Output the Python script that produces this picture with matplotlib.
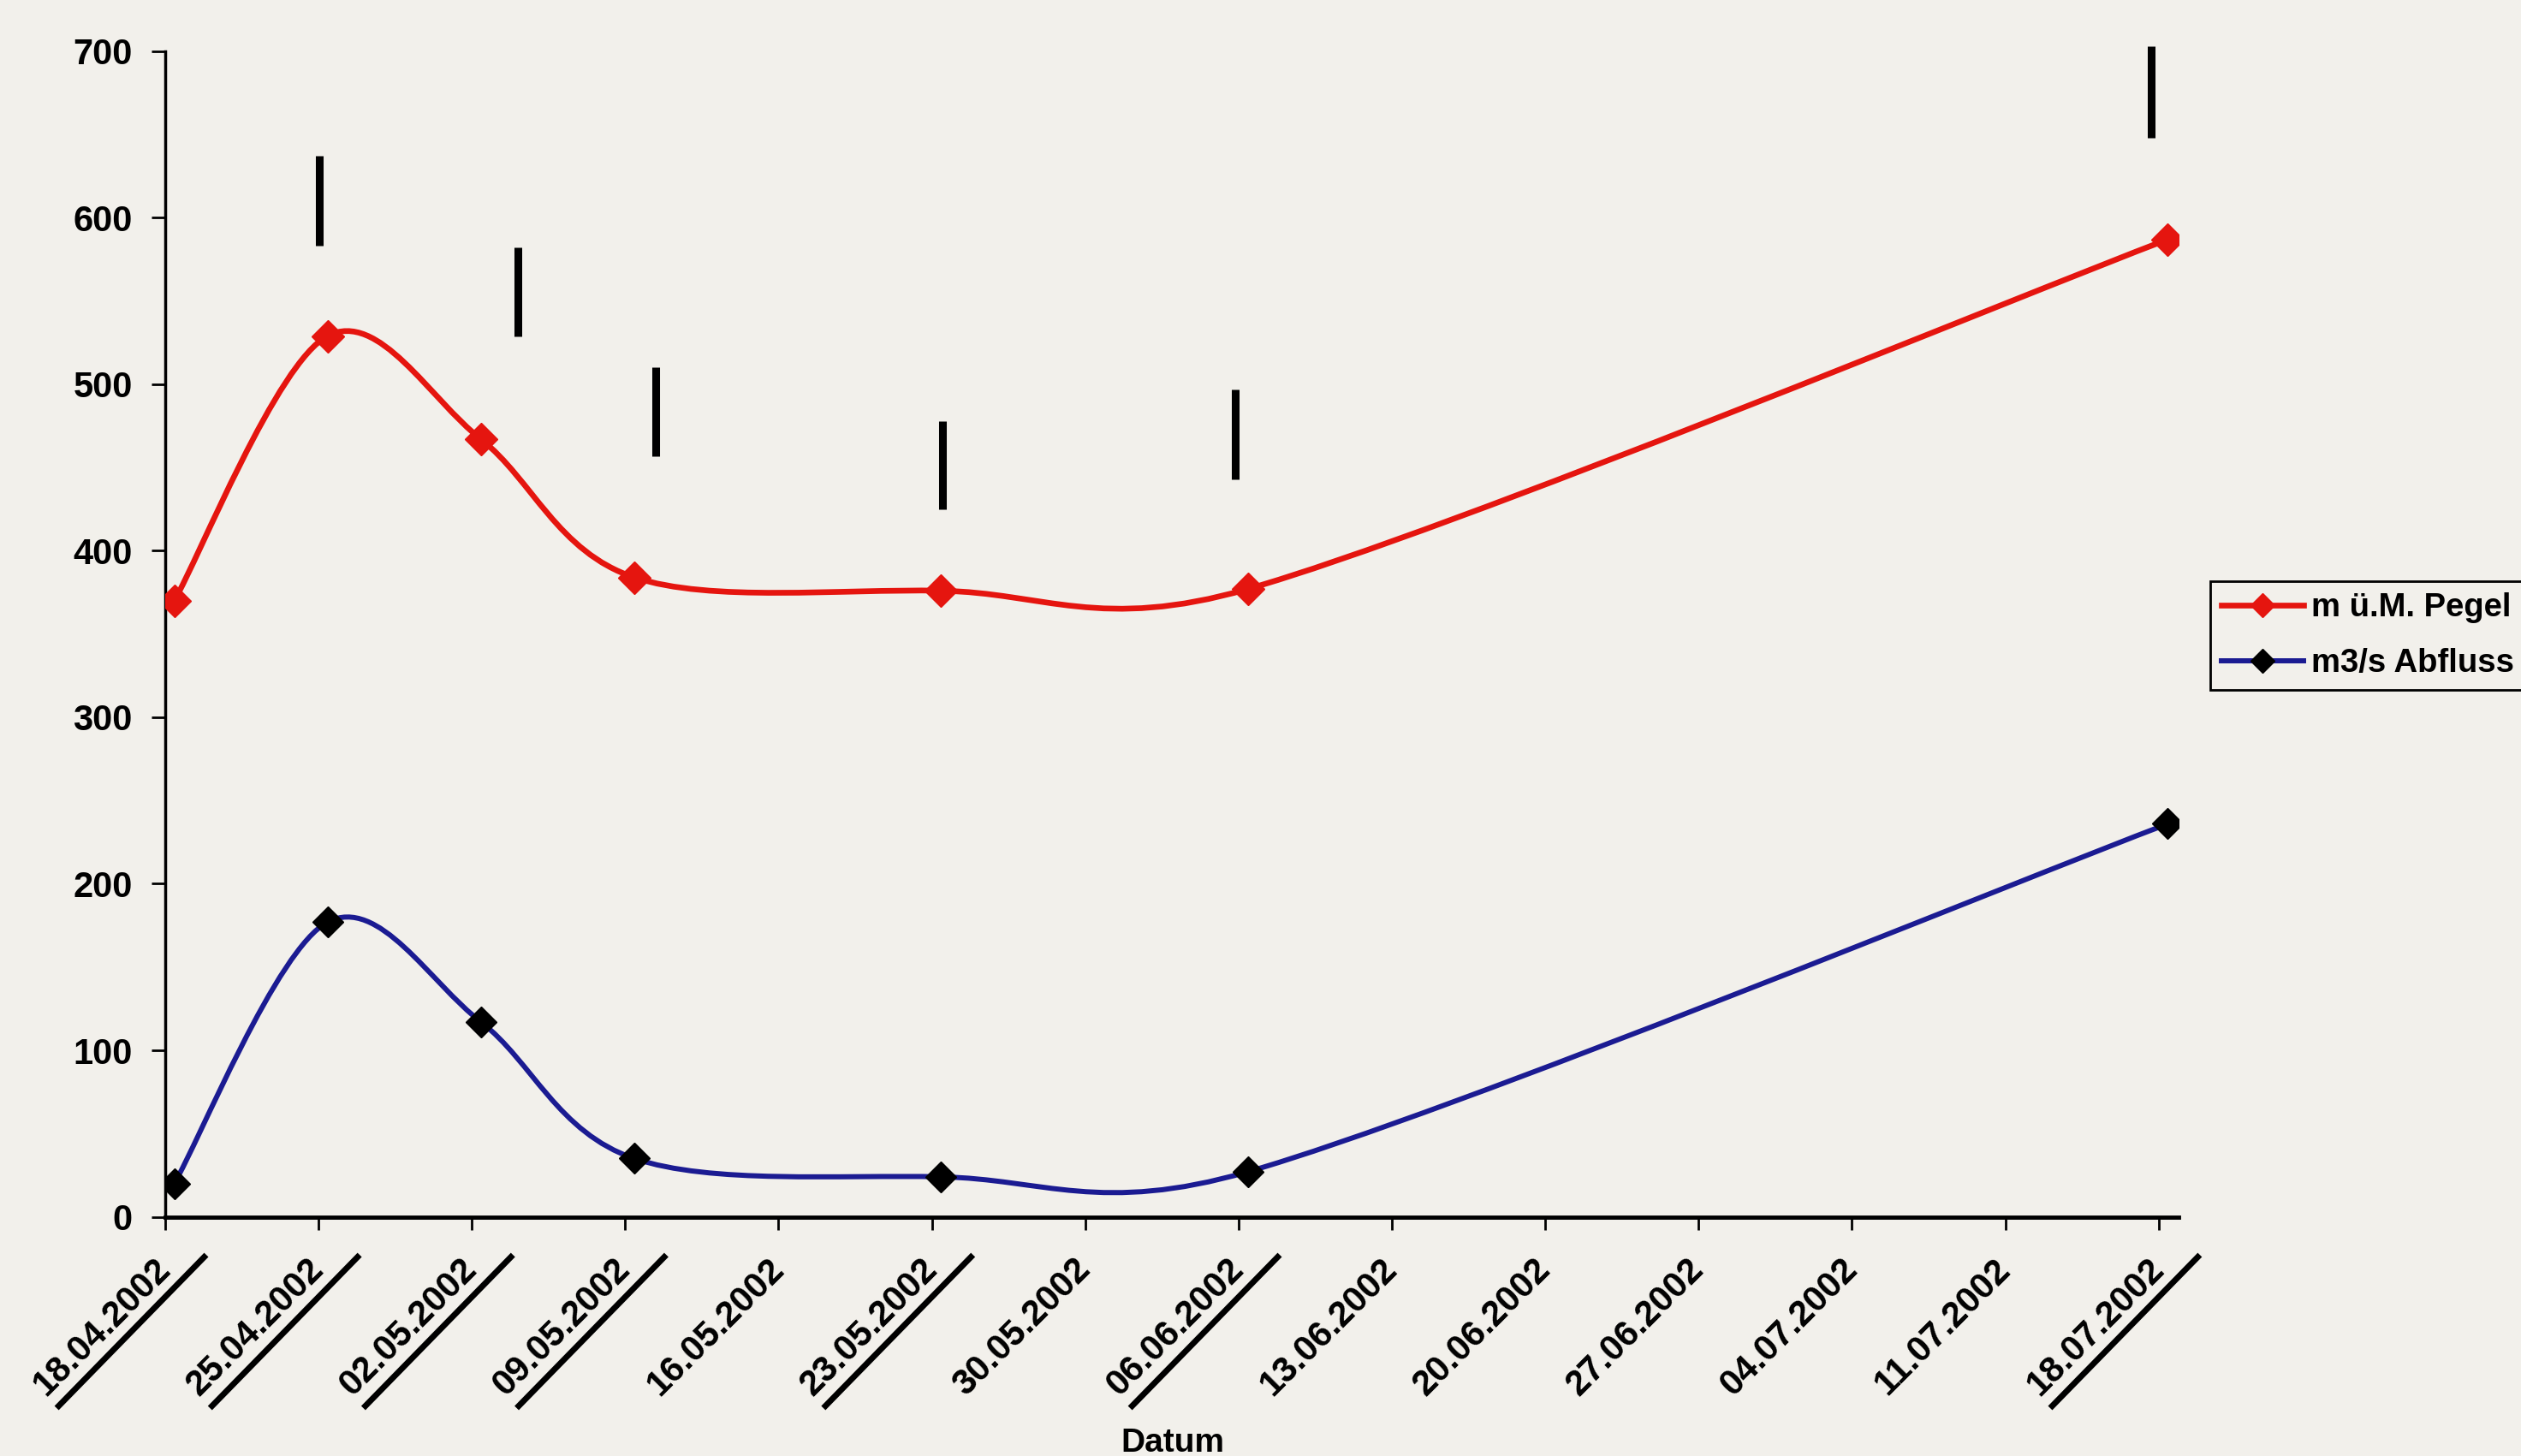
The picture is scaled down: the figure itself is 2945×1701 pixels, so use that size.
import numpy as np
import matplotlib
matplotlib.use('Agg')
import matplotlib.pyplot as plt
import matplotlib.dates as mdates
from matplotlib.path import Path
from matplotlib.patches import PathPatch
from matplotlib.lines import Line2D
from matplotlib.transforms import IdentityTransform, ScaledTranslation
from datetime import datetime, timedelta

# Wochen-Ticks der Datumsachse
tick_labels = ['18.04.2002', '25.04.2002', '02.05.2002', '09.05.2002', '16.05.2002',
               '23.05.2002', '30.05.2002', '06.06.2002', '13.06.2002', '20.06.2002',
               '27.06.2002', '04.07.2002', '11.07.2002', '18.07.2002']

# Messungen (Datum + ca. Uhrzeit)
mess_datum = ['18.04.2002 10:00', '25.04.2002 10:00', '02.05.2002 10:00', '09.05.2002 10:00',
              '23.05.2002 10:00', '06.06.2002 10:00', '18.07.2002 10:00']
pegel = [370, 529, 467, 384, 376, 377, 587]      # m ü.M. Pegel
abfluss = [20, 177, 117, 35, 24, 27, 236]        # m3/s Abfluss

# handschriftliche Striche über der Kurve (Tage ab 18.04., von-bis in y)
strich_tage = [7.05, 16.1, 22.4, 35.5, 48.85, 90.65]
strich_von = [583, 529, 457, 425, 443, 648]
strich_bis = [637, 582, 510, 478, 497, 703]

bg = '#f2f0eb'
rot = '#e5150f'
blau = '#1b1b92'

plt.rcParams['font.family'] = ['Liberation Sans', 'DejaVu Sans']
plt.rcParams['font.weight'] = 'bold'

fig = plt.figure(figsize=(29.45, 17.01), dpi=100, facecolor=bg)
ax = fig.add_axes([0.0655, 0.1643, 0.7986, 0.8005])
ax.set_facecolor(bg)

start = datetime(2002, 4, 18)
ticks = [datetime.strptime(t, '%d.%m.%Y') for t in tick_labels]
xs = mdates.date2num([datetime.strptime(d, '%d.%m.%Y %H:%M') for d in mess_datum])

ax.set_xlim(mdates.date2num(ticks[0]), mdates.date2num(ticks[-1]) + 0.9)
ax.set_ylim(0, 700)


def glatt(x, y):
    # Excel-artige geglättete Linie (Bezier, Tangenten auf halbe Segmentlänge begrenzt)
    p = ax.transData.transform(np.column_stack([x, y]))
    n = len(p)
    verts = [p[0]]
    codes = [Path.MOVETO]

    def cap(v, lim):
        l = np.hypot(*v)
        return v * (lim / l) if l > lim else v

    for i in range(n - 1):
        p0 = p[i - 1] if i > 0 else p[i]
        p1 = p[i]
        p2 = p[i + 1]
        p3 = p[i + 2] if i + 2 < n else p[i + 1]
        half = np.hypot(*(p2 - p1)) / 2
        v1 = cap((p2 - p0) / 6, half)
        v2 = cap((p3 - p1) / 6, half)
        verts += [p1 + v1, p2 - v2, p2]
        codes += [Path.CURVE4] * 3
    return Path(ax.transData.inverted().transform(np.array(verts)), codes)


ax.add_patch(PathPatch(glatt(xs, pegel), fill=False, edgecolor=rot, lw=4.8, zorder=3))
ax.add_patch(PathPatch(glatt(xs, abfluss), fill=False, edgecolor=blau, lw=4.3, zorder=3))
ax.plot(xs, pegel, 'D', color=rot, ms=19.5, ls='none', zorder=4)
ax.plot(xs, abfluss, 'D', color='black', ms=18.5, ls='none', zorder=4)

for t, a, b in zip(strich_tage, strich_von, strich_bis):
    xx = mdates.date2num(start + timedelta(days=t))
    ax.plot([xx, xx], [a, b], color='black', lw=6.5, solid_capstyle='butt', clip_on=False)

ax.set_yticks(range(0, 701, 100))
ax.set_xticks(mdates.date2num(ticks))
ax.set_xticklabels(tick_labels, rotation=45, ha='right', va='center', rotation_mode='anchor')
for lbl in ax.get_xticklabels():
    lbl.set_transform(lbl.get_transform() + ScaledTranslation(-0.09, 0, fig.dpi_scale_trans))

ax.spines['top'].set_visible(False)
ax.spines['right'].set_visible(False)
ax.spines['left'].set_linewidth(2.5)
ax.spines['bottom'].set_linewidth(3.5)
ax.tick_params(axis='y', length=11.5, width=2, pad=16, labelsize=30)
ax.tick_params(axis='x', length=11, width=2, pad=29, labelsize=30)

fig.text(1370 / 2945, 1 - 1696 / 1701, 'Datum', ha='center', va='baseline', fontsize=28)

# Unterstreichungen der Messdaten
fig.canvas.draw()
for x in xs:
    px, py = ax.transData.transform((x, 0))
    px -= 7
    fig.add_artist(Line2D([px - 128, px + 42], [py - 221, py - 47], color='black', lw=5,
                          transform=IdentityTransform()))

handles = [Line2D([], [], color=rot, lw=4.8, marker='D', ms=14),
           Line2D([], [], color=blau, lw=4.3, marker='D', ms=14, mfc='black', mec='black')]
leg = fig.legend(handles, ['m ü.M. Pegel', 'm3/s Abfluss'], loc='upper left',
                 bbox_to_anchor=(2582 / 2945, 1 - 679 / 1701), borderaxespad=0,
                 fontsize=27.5, handlelength=2.5, handletextpad=0.25, labelspacing=0.75,
                 borderpad=0.35, fancybox=False, facecolor=bg, edgecolor='black', framealpha=1)
leg.get_frame().set_linewidth(2)

fig.savefig('out.png', dpi=100, facecolor=bg)
